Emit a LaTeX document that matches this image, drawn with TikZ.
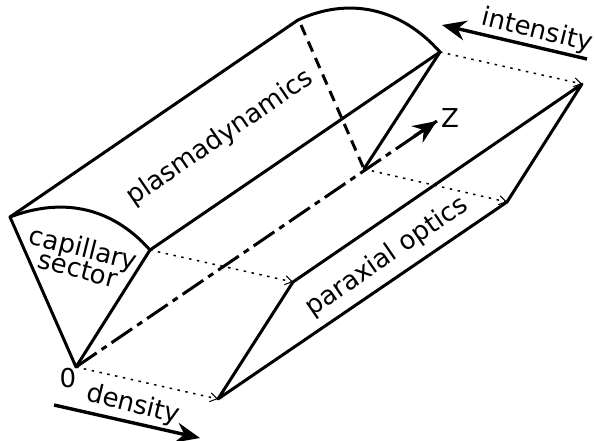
\documentclass[tikz,border=0pt]{standalone}
\usepackage{fontspec}
\setmainfont{DejaVu Sans}
\usetikzlibrary{arrows.meta}
\tikzset{
 edge/.style={line width=3pt,line join=round,line cap=round},
 dotarrow/.style={line width=1.5pt,dash pattern=on 2.5pt off 5.5pt,-{Straight Barb[length=7pt,width=9pt,line width=1pt]}},
 bigarrow/.style={line width=3.4pt,-{Stealth[length=24pt,width=20pt,inset=8pt]}},
 lab/.style={inner sep=0pt,font=\fontsize{26}{26}\selectfont},
}
\begin{document}
\begin{tikzpicture}[x=1pt,y=-1pt]
\useasboundingbox (0,0) rectangle (595,441);
\coordinate (o) at (76,367);
\coordinate (l) at (10,217);
\coordinate (r) at (150,250);
\coordinate (bo) at (364,169);
\coordinate (bl) at (298,20);
\coordinate (br) at (440,52);
\coordinate (ztip) at (437,121);
\coordinate (p1) at (218,399);
\coordinate (p2) at (293,282);
\coordinate (p3) at (582,84);
\coordinate (p4) at (507,202);
\coordinate (da) at (54,405);
\coordinate (db) at (200,438);
\coordinate (ia) at (587,59);
\coordinate (ib) at (442,25);
\draw[edge] (o) -- (l) .. controls (60,198) and (110,205) .. (r) -- cycle;
\draw[edge] (l) -- (bl) .. controls (348,-3) and (400,7) .. (br) -- (r);
\draw[edge] (br) -- (bo);
\draw[edge,dash pattern=on 11pt off 7pt,line cap=butt] (301,25) -- (bo);
\draw[line width=3pt,dash pattern=on 25pt off 6pt on 6pt off 6pt] (o) -- (ztip);
\draw[bigarrow] (414,136.5) -- (ztip);
\draw[edge] (p1) -- (p2) -- (p3) -- (p4) -- cycle;
\draw[dotarrow] (o) -- (p1);
\draw[dotarrow] (r) -- (p2);
\draw[dotarrow] (br) -- (p3);
\draw[dotarrow] (bo) -- (p4);
\draw[bigarrow] (da) -- (db);
\draw[bigarrow] (ia) -- (ib);
\node[lab,rotate=34.5] (t1) at (220,138) {plasmadynamics};
\node[lab,rotate=34.5] (t2) at (387,257) {paraxial optics};
\node[lab,rotate=-14] (t3) at (83,250) {capillary};
\node[lab,rotate=-15] (t4) at (78,269) {sector};
\node[lab,rotate=-14] (t5) at (133,405) {density};
\node[lab,rotate=-14] (t6) at (537,31) {intensity};
\node[lab] (t7) at (450,118) {Z};
\node[lab] (t8) at (68,378) {0};
\end{tikzpicture}
\end{document}
